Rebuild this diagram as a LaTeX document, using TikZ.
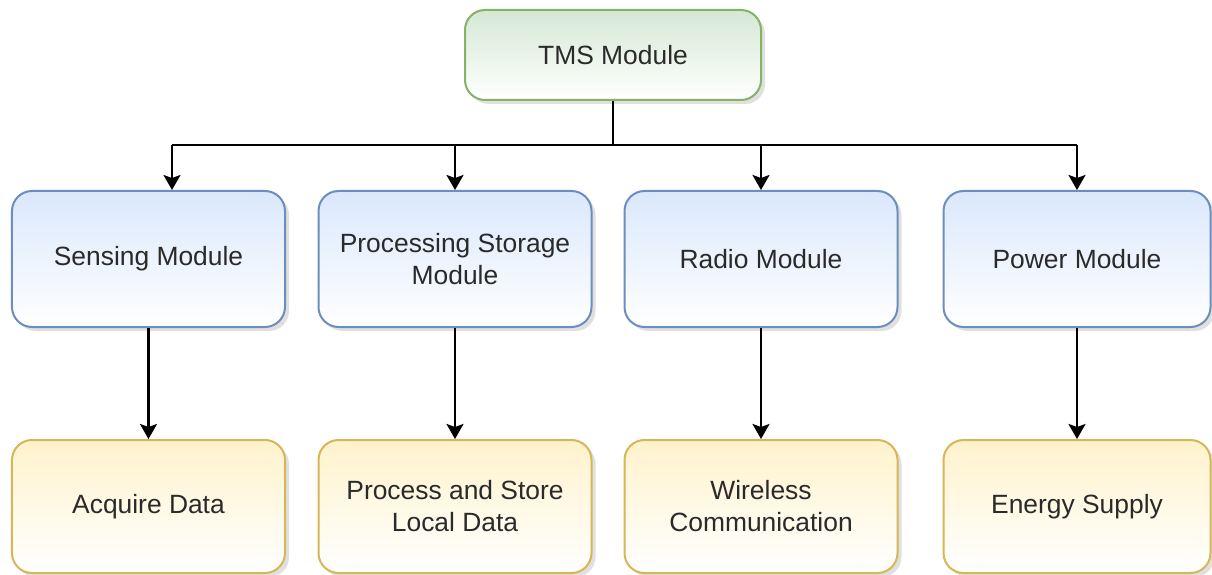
\documentclass[tikz,border=0pt]{standalone}
\usepackage{fontspec}
\setmainfont{Liberation Sans}
\usetikzlibrary{arrows.meta,shadows}
\definecolor{bluefill}{HTML}{DAE8FC}
\definecolor{bluestroke}{HTML}{6C8EBF}
\definecolor{greenfill}{HTML}{D5E8D4}
\definecolor{greenstroke}{HTML}{82B366}
\definecolor{yellowfill}{HTML}{FFF2CC}
\definecolor{yellowstroke}{HTML}{D6B656}
\definecolor{txt}{HTML}{2A2A2A}
\tikzset{
  box/.style={rectangle, rounded corners=20bp, line width=2bp, align=center,
    text=txt, font=\fontsize{26.5}{32}\selectfont, inner sep=0pt,
    drop shadow={shadow xshift=4bp, shadow yshift=-4bp, opacity=0.12, fill=black}},
  topbox/.style={box, draw=greenstroke, top color=greenfill, bottom color=white,
    minimum width=296bp, minimum height=90bp},
  midbox/.style={box, draw=bluestroke, top color=bluefill, bottom color=white,
    minimum width=273bp, minimum height=136bp},
  lowbox/.style={box, draw=yellowstroke, top color=yellowfill, bottom color=white,
    minimum width=273bp, minimum height=133bp},
  conn/.style={line width=2.4bp, black},
  arr/.style={conn, -{Stealth[length=15bp, width=17bp, inset=3bp]}}
}
\begin{document}
\begin{tikzpicture}[x=1bp, y=-1bp]
\useasboundingbox (0,0) rectangle (1212,575);
\node[topbox] (tms) at (613,55) {TMS Module};
\node[midbox] (sens) at (148.5,259) {Sensing Module};
\node[midbox] (proc) at (455,259) {Processing Storage\\Module};
\node[midbox] (radio) at (761,259) {Radio Module};
\node[midbox, minimum width=267bp] (power) at (1077,259) {Power Module};
\node[lowbox] (acq) at (148.5,506.5) {Acquire Data};
\node[lowbox] (pst) at (455,506.5) {Process and Store\\Local Data};
\node[lowbox] (wire) at (761,506.5) {Wireless\\Communication};
\node[lowbox, minimum width=267bp] (energy) at (1077,506.5) {Energy Supply};
\coordinate (bus) at (613,145);
\coordinate (b1) at (172,145);
\coordinate (b4) at (1077,145);
\draw[conn] (tms.south) -- (bus);
\draw[conn] (b1) -- (b4);
\draw[arr] (b1) -- (b1 |- sens.north);
\draw[arr] (proc.north |- bus) -- (proc.north);
\draw[arr] (radio.north |- bus) -- (radio.north);
\draw[arr] (b4) -- (power.north);
\draw[arr] (sens.south) -- (acq.north);
\draw[arr] (proc.south) -- (pst.north);
\draw[arr] (radio.south) -- (wire.north);
\draw[arr] (power.south) -- (energy.north);
\end{tikzpicture}
\end{document}
